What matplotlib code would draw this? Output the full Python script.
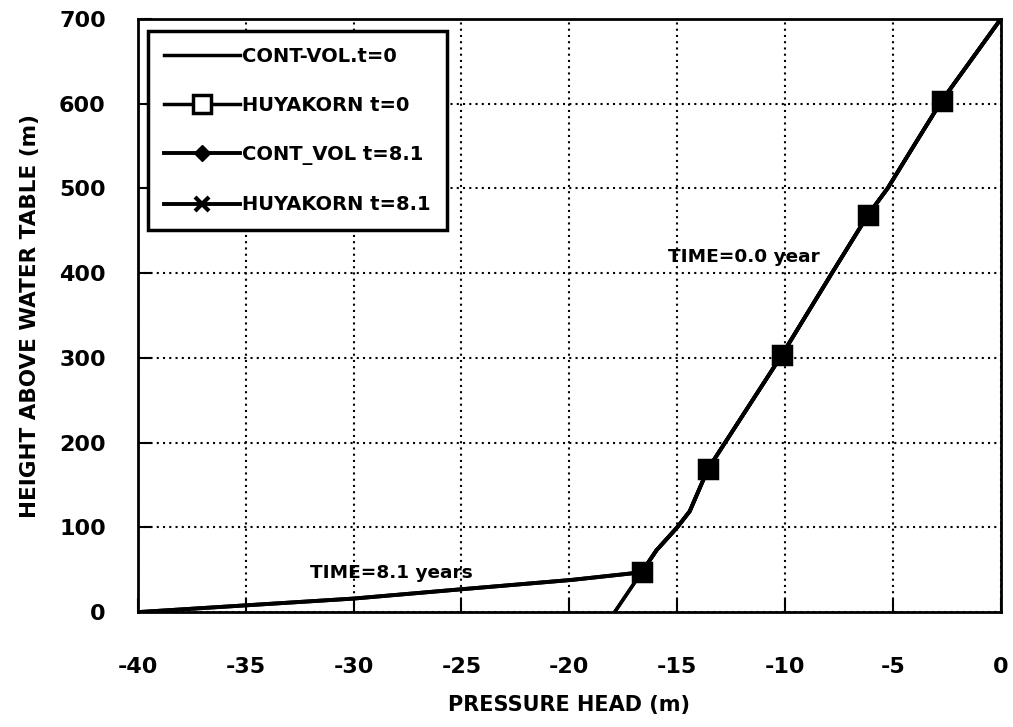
import matplotlib.pyplot as plt
import numpy as np

plt.rcParams['font.family'] = ['DejaVu Sans']
plt.rcParams['font.weight'] = 'bold'
plt.rcParams['axes.unicode_minus'] = False

# CONT-VOL, t = 0 (profile line)
cv0_x = [-17.9, -16.65, -15.96, -15.0, -14.42, -13.57, -10.16, -7.83, -6.15, -5.25, -4.04, -2.75, 0.0]
cv0_y = [0, 47, 73, 100, 119, 169, 303, 400, 469, 500, 550, 603, 700]

# HUYAKORN nodes (same heights for both times)
hk0_x = [-16.65, -13.57, -10.16, -6.15, -2.75]
hk0_y = [47, 169, 303, 469, 603]

# t = 8.1 years: drained bottom part, then same as t=0 above 47 m
low8_x = [-40.0, -35.0, -30.0, -25.0, -19.9]
low8_y = [0, 8, 16, 27, 38]

xticks = np.arange(-40, 1, 5)
yticks = np.arange(0, 701, 100)

cv8_x = low8_x + cv0_x[1:]
cv8_y = low8_y + cv0_y[1:]
mk0 = [i for i, y in enumerate(cv0_y) if y in hk0_y]
mk8 = [i for i, y in enumerate(cv8_y) if y in hk0_y]

fig = plt.figure(figsize=(10.13, 7.27), dpi=100)
ax = fig.add_axes([0.136, 0.158, 0.852, 0.816])

ax.plot(cv0_x, cv0_y, 'k-', lw=2.5, label='CONT-VOL.t=0')
ax.plot(cv0_x, cv0_y, 'k-', lw=2.5, marker='s', ms=12.5, mfc='white', mew=2.5,
        markevery=mk0, label='HUYAKORN t=0')
ax.plot(cv8_x, cv8_y, 'k-', lw=2.8, marker='D', ms=8, markevery=mk8,
        label='CONT_VOL t=8.1')
ax.plot(cv8_x, cv8_y, 'k-', lw=2.8, marker='x', ms=10, mew=3, markevery=mk8,
        label='HUYAKORN t=8.1')
# overlapping nodes render as solid blobs in the original
ax.plot(hk0_x, hk0_y, 'ks', ms=11, zorder=3)

ax.text(-15.42, 419, 'TIME=0.0 year', fontsize=13.3, fontweight='bold', va='center')
ax.text(-32.0, 46, 'TIME=8.1 years', fontsize=13.3, fontweight='bold', va='center')

ax.set_xlim(-40, 0)
ax.set_ylim(0, 700)
ax.set_xticks(xticks)
ax.set_yticks(yticks)
ax.tick_params(direction='in', length=10, width=1.5, labelsize=16)
ax.tick_params(axis='x', pad=32)
ax.tick_params(axis='y', pad=23)
ax.grid(True, color='black', linestyle=(0, (1, 2)), linewidth=1.5)
for s in ax.spines.values():
    s.set_linewidth(2)

ax.set_xlabel('PRESSURE HEAD (m)', fontsize=15, fontweight='bold', labelpad=13)
ax.set_ylabel('HEIGHT ABOVE WATER TABLE (m)', fontsize=15.5, fontweight='bold', labelpad=14)

leg = ax.legend(loc='upper left', bbox_to_anchor=(0.012, 0.979), borderaxespad=0,
                fontsize=14, handlelength=3.9, handletextpad=0.15, labelspacing=1.55,
                fancybox=False, edgecolor='black', framealpha=1, borderpad=0.8)
leg.get_frame().set_linewidth(2.5)

fig.savefig('out.png', dpi=100)
